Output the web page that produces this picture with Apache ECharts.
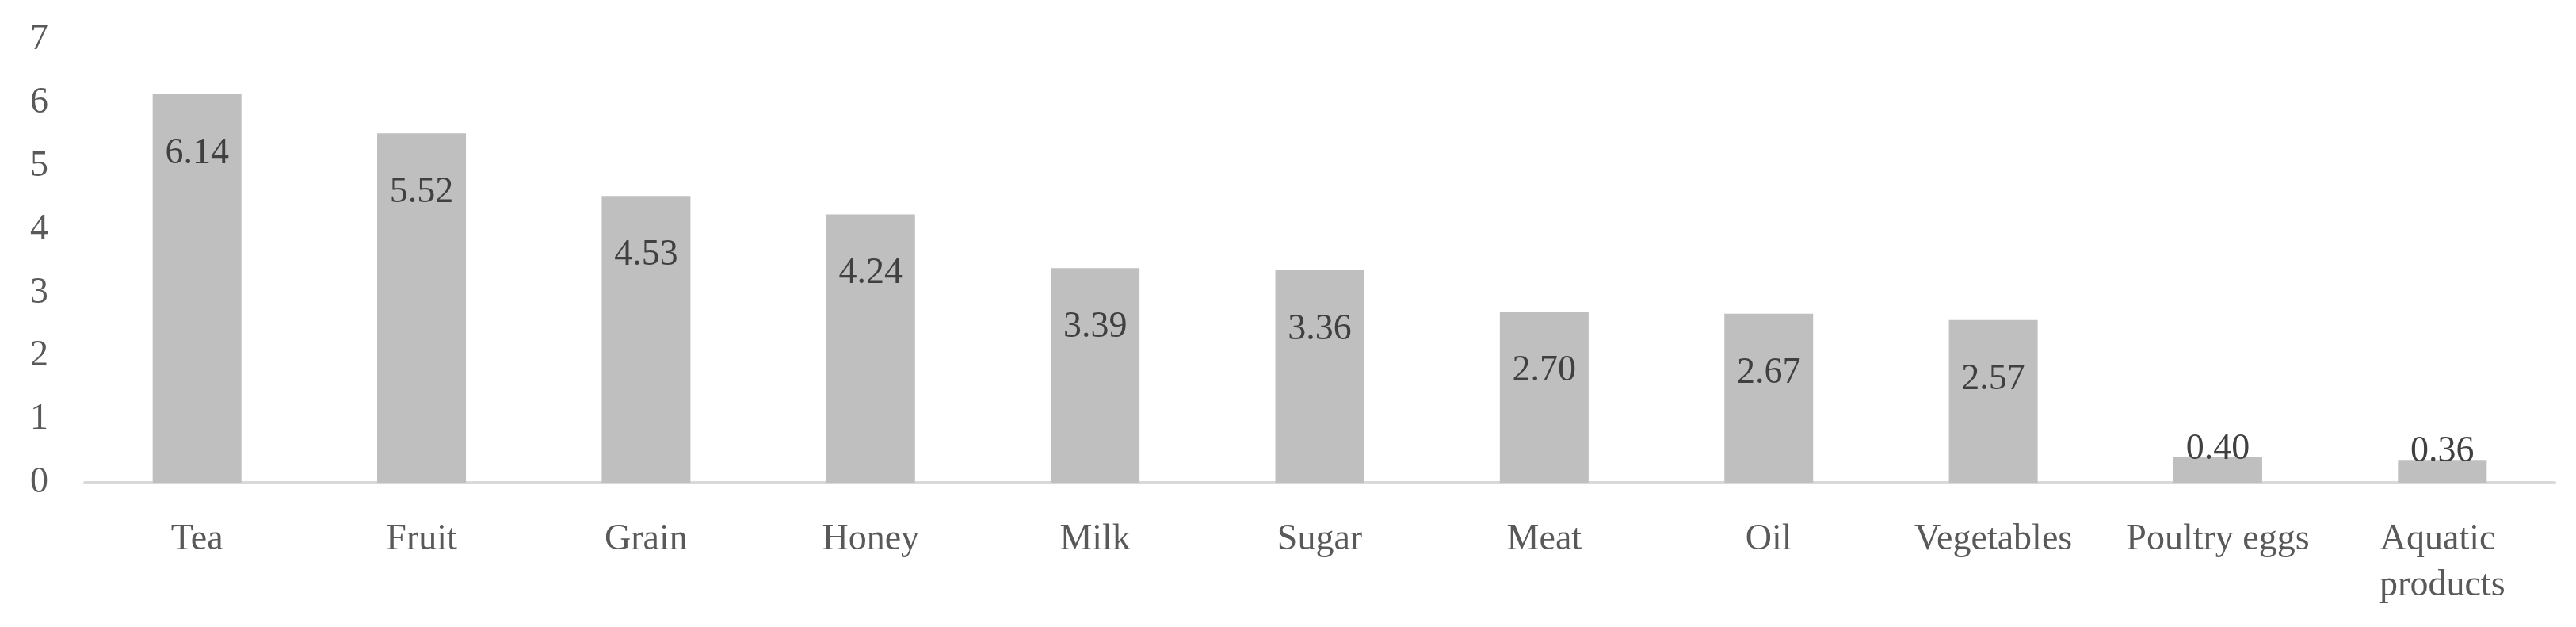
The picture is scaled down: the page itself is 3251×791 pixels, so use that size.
<!DOCTYPE html>
<html>
<head>
<meta charset="utf-8">
<script src="https://cdn.jsdelivr.net/npm/echarts@6/dist/echarts.min.js"></script>
<style>
html,body{margin:0;padding:0;background:#fff;}
#chart{width:3251px;height:791px;}
</style>
</head>
<body>
<div id="chart"></div>
<script>
const categories = ['Tea','Fruit','Grain','Honey','Milk','Sugar','Meat','Oil','Vegetables','Poultry eggs','Aquatic products'];
const values = [6.14, 5.52, 4.53, 4.24, 3.39, 3.36, 2.70, 2.67, 2.57, 0.40, 0.36];
const yTicks = [0, 1, 2, 3, 4, 5, 6, 7];

const FONT = '"Liberation Serif", "DejaVu Serif", serif';
const FS = 46;

const seriesData = values.map(v => {
  if (v < 1) {
    return { value: v, label: { position: 'top', distance: -13 } };
  }
  return { value: v };
});

const chart = echarts.init(document.getElementById('chart'), null, {renderer: 'canvas'});
chart.setOption({
  animation: false,
  backgroundColor: '#ffffff',
  grid: { left: 107, right: 27, top: 50, bottom: 182, containLabel: false },
  xAxis: {
    type: 'category',
    data: categories,
    axisLine: { show: true, lineStyle: { color: '#d9d9d9', width: 4 } },
    axisTick: { show: false },
    axisLabel: {
      interval: 0,
      margin: 43,
      color: '#595959',
      fontFamily: FONT,
      fontSize: FS,
      lineHeight: 58,
      width: 260,
      overflow: 'break'
    }
  },
  yAxis: {
    type: 'value',
    min: yTicks[0],
    max: yTicks[yTicks.length - 1],
    interval: 1,
    splitLine: { show: false },
    axisLine: { show: false },
    axisTick: { show: false },
    axisLabel: {
      margin: 46,
      color: '#595959',
      fontFamily: FONT,
      fontSize: FS,
      formatter: v => yTicks.includes(v) ? String(v) : ''
    }
  },
  series: [{
    type: 'bar',
    data: seriesData,
    barWidth: 112,
    itemStyle: { color: '#bfbfbf' },
    label: {
      show: true,
      position: 'insideTop',
      distance: 52,
      color: '#404040',
      fontFamily: FONT,
      fontSize: FS,
      lineHeight: 46,
      formatter: p => p.value.toFixed(2)
    }
  }]
});
</script>
</body>
</html>
